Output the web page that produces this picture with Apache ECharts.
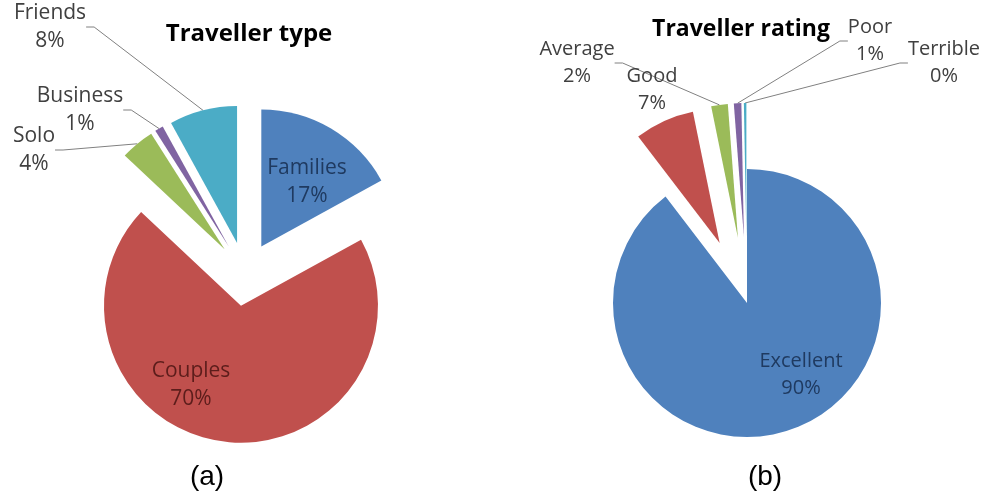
<!DOCTYPE html>
<html>
<head>
<meta charset="utf-8">
<script src="https://cdn.jsdelivr.net/npm/echarts@6/dist/echarts.min.js"></script>
<style>
html, body { margin: 0; padding: 0; background: #fff; }
#chart { width: 987px; height: 497px; }
</style>
</head>
<body>
<div id="chart"></div>
<script>
// (a) traveller type, share in %
var typeNames = ['Families', 'Couples', 'Solo', 'Business', 'Friends'];
var typeShare = [17, 70, 4, 1, 8];

// (b) traveller rating, share in %
var ratingNames = ['Excellent', 'Good', 'Average', 'Poor', 'Terrible'];
var ratingShare = [89.6, 7.2, 2.0, 0.9, 0.3];

// office 2007 colours
var palette = ['#4F81BD', '#C0504D', '#9BBB59', '#8064A2', '#4BACC6'];
var insideColor = { Families: '#1F3A60', Couples: '#5C1D1B', Excellent: '#1F3A60' };

// explosion distance of each slice (px)
var typeExplode = [32, 32, 32, 32, 32];
var ratingExplode = [0, 66, 66, 66, 66];

// label block centres, as excel placed them
var typeLabelPos = [[307, 182], [191, 385], [34, 150], [80, 110], [50, 27]];
var ratingLabelPos = [[801, 375], [652, 90], [577, 63], [870, 41], [944, 63]];

var labelFont = 'Open Sans';

// one series per slice so that each slice can be pulled out on its own,
// the other slices of that series stay transparent
function explodedPie(names, values, center, radius, explode, labelPos, noLine, fontSize) {
	var total = values.reduce(function (a, b) { return a + b; }, 0);
	var acc = 0;
	return names.map(function (name, i) {
		var mid = (acc + values[i] / 2) / total * 2 * Math.PI;
		acc += values[i];
		var c = [center[0] + explode[i] * Math.sin(mid), center[1] - explode[i] * Math.cos(mid)];
		return {
			type: 'pie',
			center: c,
			radius: radius,
			startAngle: 90,
			clockwise: true,
			percentPrecision: 0,
			avoidLabelOverlap: false,
			emphasis: { scale: false },
			itemStyle: { borderWidth: 0 },
			label: {
				formatter: '{b}\n{d}%',
				fontFamily: labelFont,
				fontSize: fontSize,
				lineHeight: fontSize + 7,
				color: '#404040'
			},
			labelLine: {
				length: 8,
				length2: 8,
				minTurnAngle: 0,
				lineStyle: { color: '#808080', width: 1 }
			},
			data: names.map(function (n, j) {
				var inside = !!insideColor[n];
				return {
					name: n,
					value: values[j],
					itemStyle: { color: j === i ? palette[j] : 'rgba(0,0,0,0)' },
					label: { show: j === i, position: inside ? 'inside' : 'outside', color: inside ? insideColor[n] : '#404040' },
					labelLine: { show: j === i && !inside && noLine.indexOf(n) < 0 }
				};
			}),
			labelLayout: function (p) {
				var pos = labelPos[p.dataIndex];
				return { x: pos[0], y: pos[1], align: 'center', verticalAlign: 'middle' };
			}
		};
	});
}

var chart = echarts.init(document.getElementById('chart'));
var option = {
	animation: false,
	title: [
		{ text: 'Traveller type', left: 244, top: 17, textAlign: 'center',
			textStyle: { fontFamily: labelFont, fontWeight: 'bold', fontSize: 24, color: '#000' } },
		{ text: 'Traveller rating', left: 736, top: 13, textAlign: 'center',
			textStyle: { fontFamily: labelFont, fontWeight: 'bold', fontSize: 23, color: '#000' } },
		{ text: '(a)', left: 202, top: 458, textAlign: 'center',
			textStyle: { fontFamily: 'Liberation Sans', fontWeight: 'normal', fontSize: 28, color: '#000' } },
		{ text: '(b)', left: 760, top: 458, textAlign: 'center',
			textStyle: { fontFamily: 'Liberation Sans', fontWeight: 'normal', fontSize: 28, color: '#000' } }
	],
	series: explodedPie(typeNames, typeShare, [245, 274], 137, typeExplode, typeLabelPos, [], 21)
		.concat(explodedPie(ratingNames, ratingShare, [747, 303], 134, ratingExplode, ratingLabelPos, ['Good'], 20))
};
chart.setOption(option);
</script>
</body>
</html>
